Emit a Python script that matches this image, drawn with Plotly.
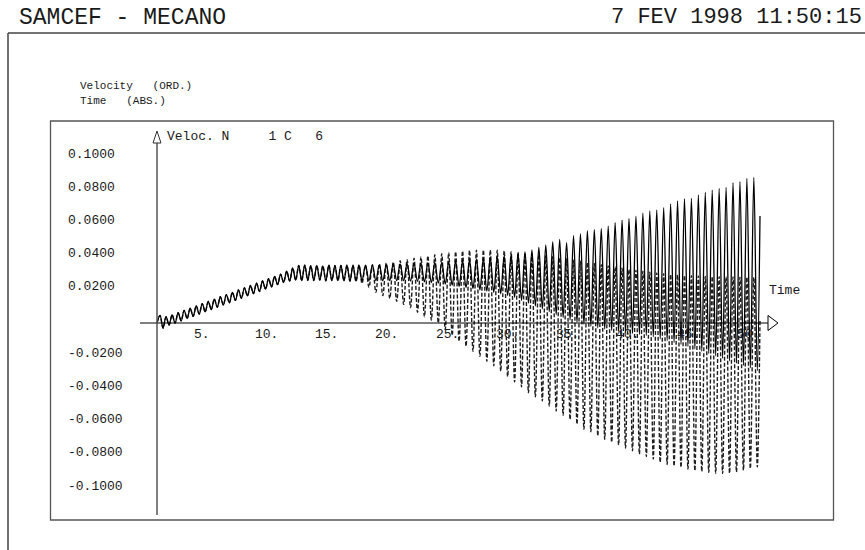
import plotly.graph_objects as go

# ---------------- data ----------------
# common part: both curves coincide from t=0 to t=16 (extremes of the oscillation)
common_t = [0.00, 0.25, 0.50, 0.75, 1.00, 1.25, 1.50, 1.75, 2.00, 2.25, 2.50, 2.75, 3.00,
            3.25, 3.50, 3.75, 4.00, 4.25, 4.50, 4.75, 5.00, 5.25, 5.50, 5.75, 6.00, 6.25,
            6.50, 6.75, 7.00, 7.25, 7.50, 7.75, 8.00, 8.25, 8.50, 8.75, 9.00, 9.25, 9.50,
            9.75, 10.00, 10.25, 10.50, 10.75, 11.00, 11.25, 11.50, 11.75, 12.00, 12.25,
            12.50, 12.75, 13.00, 13.25, 13.50, 13.75, 14.00, 14.25, 14.50, 14.75, 15.00,
            15.25, 15.50, 15.75, 16.00]
common_v = [0.0000, 0.0046, -0.0031, 0.0038, -0.0012, 0.0049, -0.0001, 0.0062, 0.0013, 0.0076,
            0.0027, 0.0089, 0.0040, 0.0103, 0.0054, 0.0117, 0.0067, 0.0130, 0.0081, 0.0144,
            0.0095, 0.0158, 0.0108, 0.0171, 0.0122, 0.0185, 0.0136, 0.0199, 0.0149, 0.0212,
            0.0163, 0.0226, 0.0177, 0.0240, 0.0190, 0.0253, 0.0204, 0.0267, 0.0218, 0.0281,
            0.0231, 0.0294, 0.0244, 0.0312, 0.0253, 0.0332, 0.0258, 0.0346, 0.0255, 0.0348,
            0.0257, 0.0345, 0.0255, 0.0347, 0.0258, 0.0344, 0.0254, 0.0348, 0.0256, 0.0346,
            0.0255, 0.0347, 0.0254, 0.0348, 0.0252]

# after t=16 the two curves separate: times of the peaks and troughs
peak_t = [16.250, 16.750, 17.288, 17.863, 18.438, 19.013, 19.588, 20.163, 20.738, 21.313,
          21.888, 22.463, 23.038, 23.613, 24.188, 24.763, 25.338, 25.913, 26.488, 27.063,
          27.638, 28.213, 28.788, 29.363, 29.938, 30.513, 31.088, 31.663, 32.238, 32.813,
          33.388, 33.963, 34.538, 35.113, 35.688, 36.263, 36.838, 37.413, 37.988, 38.563,
          39.138, 39.713, 40.288, 40.863, 41.438, 42.013, 42.588, 43.163, 43.738, 44.313,
          44.888, 45.463, 46.038, 46.613, 47.188, 47.763, 48.338, 48.913, 49.488]
trough_t = [16.500, 17.000, 17.575, 18.150, 18.725, 19.300, 19.875, 20.450, 21.025, 21.600,
            22.175, 22.750, 23.325, 23.900, 24.475, 25.050, 25.625, 26.200, 26.775, 27.350,
            27.925, 28.500, 29.075, 29.650, 30.225, 30.800, 31.375, 31.950, 32.525, 33.100,
            33.675, 34.250, 34.825, 35.400, 35.975, 36.550, 37.125, 37.700, 38.275, 38.850,
            39.425, 40.000, 40.575, 41.150, 41.725, 42.300, 42.875, 43.450, 44.025, 44.600,
            45.175, 45.750, 46.325, 46.900, 47.475, 48.050, 48.625, 49.200, 49.775]

solid_peak_v = [0.0347, 0.0348, 0.0348, 0.0349, 0.0350, 0.0352, 0.0354, 0.0355, 0.0357, 0.0358,
                0.0360, 0.0361, 0.0363, 0.0365, 0.0368, 0.0372, 0.0376, 0.0380, 0.0384, 0.0388,
                0.0393, 0.0398, 0.0404, 0.0410, 0.0418, 0.0428, 0.0440, 0.0455, 0.0470, 0.0490,
                0.0504, 0.0485, 0.0526, 0.0536, 0.0556, 0.0564, 0.0570, 0.0584, 0.0604, 0.0620,
                0.0630, 0.0644, 0.0661, 0.0675, 0.0681, 0.0695, 0.0717, 0.0735, 0.0749, 0.0751,
                0.0771, 0.0787, 0.0801, 0.0811, 0.0817, 0.0845, 0.0851, 0.0871, 0.0877]
solid_trough_v = [0.0253, 0.0254, 0.0255, 0.0256, 0.0255, 0.0256, 0.0255, 0.0255, 0.0253, 0.0251,
                  0.0248, 0.0244, 0.0240, 0.0235, 0.0228, 0.0220, 0.0213, 0.0207, 0.0200, 0.0193,
                  0.0185, 0.0176, 0.0166, 0.0155, 0.0137, 0.0120, 0.0103, 0.0085, 0.0068, 0.0050,
                  0.0033, 0.0018, 0.0004, -0.0008, -0.0020, -0.0029, -0.0037, -0.0045, -0.0052,
                  -0.0058, -0.0064, -0.0070, -0.0076, -0.0083, -0.0095, -0.0106, -0.0118, -0.0129,
                  -0.0141, -0.0156, -0.0170, -0.0184, -0.0198, -0.0213, -0.0228, -0.0242, -0.0256,
                  -0.0270, -0.0287]
dash_peak_v = [0.0348, 0.0350, 0.0347, 0.0351, 0.0356, 0.0362, 0.0368, 0.0375, 0.0382, 0.0390,
               0.0398, 0.0405, 0.0412, 0.0418, 0.0424, 0.0430, 0.0434, 0.0437, 0.0439, 0.0440,
               0.0440, 0.0438, 0.0435, 0.0431, 0.0427, 0.0422, 0.0417, 0.0412, 0.0406, 0.0400,
               0.0393, 0.0386, 0.0379, 0.0372, 0.0365, 0.0358, 0.0351, 0.0344, 0.0337, 0.0330,
               0.0324, 0.0318, 0.0312, 0.0306, 0.0301, 0.0297, 0.0293, 0.0290, 0.0287, 0.0285,
               0.0283, 0.0281, 0.0280, 0.0279, 0.0278, 0.0277, 0.0276, 0.0276, 0.0275]
dash_trough_v = [0.0250, 0.0238, 0.0215, 0.0185, 0.0165, 0.0148, 0.0130, 0.0112, 0.0092, 0.0065,
                 0.0038, 0.0018, 0.0000, -0.0040, -0.0075, -0.0110, -0.0140, -0.0170, -0.0200,
                 -0.0230, -0.0258, -0.0290, -0.0322, -0.0355, -0.0385, -0.0420, -0.0445, -0.0470,
                 -0.0500, -0.0530, -0.0556, -0.0582, -0.0610, -0.0640, -0.0655, -0.0680, -0.0700,
                 -0.0718, -0.0735, -0.0753, -0.0770, -0.0790, -0.0805, -0.0820, -0.0840, -0.0852,
                 -0.0862, -0.0870, -0.0880, -0.0890, -0.0895, -0.0900, -0.0905, -0.0907, -0.0905,
                 -0.0898, -0.0888, -0.0877, -0.0868]
end_t = 50.0
solid_end_v = 0.0645
dash_end_v = 0.0020

x_tick_vals = [5, 10, 15, 20, 25, 30, 35, 40, 45, 50]
x_tick_text = ["5.", "10.", "15.", "20.", "25.", "30.", "35.", "40.", "45.", "50."]
y_tick_vals = [0.10, 0.08, 0.06, 0.04, 0.02, -0.02, -0.04, -0.06, -0.08, -0.10]
y_tick_text = ["0.1000", "0.0800", "0.0600", "0.0400", "0.0200",
               "-0.0200", "-0.0400", "-0.0600", "-0.0800", "-0.1000"]

# ---------------- build the series ----------------
def build(peaks, troughs, end_v):
    xs, ys = list(common_t), list(common_v)
    for tp, vp, tt, vt in zip(peak_t, peaks, trough_t, troughs):
        xs += [tp, tt]
        ys += [vp, vt]
    xs.append(end_t)
    ys.append(end_v)
    return xs, ys

sx, sy = build(solid_peak_v, solid_trough_v, solid_end_v)
dx, dy = build(dash_peak_v, dash_trough_v, dash_end_v)

# ---------------- page geometry ----------------
W, H = 865, 550
T0_PX, PX_PER_T = 157.0, 12.06     # pixel of t=0, pixels per time unit
V0_PX, PX_PER_V = 323.0, 1660.0    # pixel of v=0, pixels per velocity unit
x_range = [(0 - T0_PX) / PX_PER_T, (W - T0_PX) / PX_PER_T]
y_range = [(V0_PX - H) / PX_PER_V, V0_PX / PX_PER_V]

def px(x):
    return x / W

def py(y):
    return 1 - y / H

MONO = "Liberation Mono, Courier New, monospace"
INK = "#1a1a1a"

fig = go.Figure()
fig.add_trace(go.Scatter(x=dx, y=dy, mode="lines",
                         line=dict(color="#1e1e1e", width=1.4, dash="4px,2px", shape="spline", smoothing=1),
                         hoverinfo="skip"))
fig.add_trace(go.Scatter(x=sx, y=sy, mode="lines",
                         line=dict(color="#000000", width=1.3, shape="spline", smoothing=1),
                         hoverinfo="skip"))

shapes = []
# outer frame (top and left lines)
shapes.append(dict(type="line", xref="paper", yref="paper", x0=px(8), y0=py(33), x1=px(865), y1=py(33),
                   line=dict(color="#444444", width=1.5)))
shapes.append(dict(type="line", xref="paper", yref="paper", x0=px(8), y0=py(33), x1=px(8), y1=py(550),
                   line=dict(color="#444444", width=1.5)))
# inner box
shapes.append(dict(type="rect", xref="paper", yref="paper", x0=px(50.5), y0=py(121), x1=px(833.5), y1=py(520),
                   line=dict(color="#555555", width=1.3)))
# time axis with open arrow
shapes.append(dict(type="line", xref="paper", yref="paper", x0=px(140), y0=py(323), x1=px(768), y1=py(323),
                   line=dict(color="#000000", width=1)))
shapes.append(dict(type="path", xref="paper", yref="paper",
                   path=f"M {px(768)} {py(315.5)} L {px(778)} {py(323)} L {px(768)} {py(330.5)} Z",
                   line=dict(color="#000000", width=1)))
# velocity axis with open arrow
shapes.append(dict(type="line", xref="paper", yref="paper", x0=px(157), y0=py(143), x1=px(157), y1=py(515),
                   line=dict(color="#555555", width=1.5)))
shapes.append(dict(type="path", xref="paper", yref="paper",
                   path=f"M {px(153)} {py(143)} L {px(157)} {py(131)} L {px(161)} {py(143)} Z",
                   line=dict(color="#333333", width=1)))

ann = []
ann.append(dict(text="SAMCEF - MECANO", xref="paper", yref="paper", x=px(17), y=py(18),
                xanchor="left", yanchor="middle", showarrow=False, font=dict(family=MONO, size=23, color=INK)))
ann.append(dict(text="7 FEV 1998 11:50:15", xref="paper", yref="paper", x=px(864), y=py(18),
                xanchor="right", yanchor="middle", showarrow=False, font=dict(family=MONO, size=22, color=INK)))
ann.append(dict(text="Velocity   (ORD.)", xref="paper", yref="paper", x=px(78), y=py(86),
                xanchor="left", yanchor="middle", showarrow=False, font=dict(family=MONO, size=11, color=INK)))
ann.append(dict(text="Time   (ABS.)", xref="paper", yref="paper", x=px(78), y=py(101),
                xanchor="left", yanchor="middle", showarrow=False, font=dict(family=MONO, size=11, color=INK)))
ann.append(dict(text="Veloc. N     1 C   6", xref="paper", yref="paper", x=px(165), y=py(137),
                xanchor="left", yanchor="middle", showarrow=False, font=dict(family=MONO, size=13, color=INK)))
ann.append(dict(text="Time", xref="paper", yref="paper", x=px(767), y=py(290),
                xanchor="left", yanchor="middle", showarrow=False, font=dict(family=MONO, size=13, color=INK)))
for v, s in zip(y_tick_vals, y_tick_text):
    ann.append(dict(text=s, xref="paper", yref="y", x=px(66), y=v, yshift=3,
                    xanchor="left", yanchor="middle", showarrow=False,
                    font=dict(family=MONO, size=13, color=INK)))
for t, s in zip(x_tick_vals, x_tick_text):
    ann.append(dict(text=s, xref="x", yref="y", x=t, y=0, xshift=-25, yshift=-11,
                    xanchor="left", yanchor="middle", showarrow=False,
                    font=dict(family=MONO, size=13, color=INK)))

fig.update_layout(
    width=W, height=H, autosize=False,
    margin=dict(l=0, r=0, t=0, b=0),
    paper_bgcolor="white", plot_bgcolor="white",
    showlegend=False,
    xaxis=dict(range=x_range, visible=False, fixedrange=True),
    yaxis=dict(range=y_range, visible=False, fixedrange=True),
    shapes=shapes, annotations=ann,
)

fig.write_html("out.html", config={"displayModeBar": False},
               post_script="document.body.style.margin='0';document.body.style.overflow='hidden';")
